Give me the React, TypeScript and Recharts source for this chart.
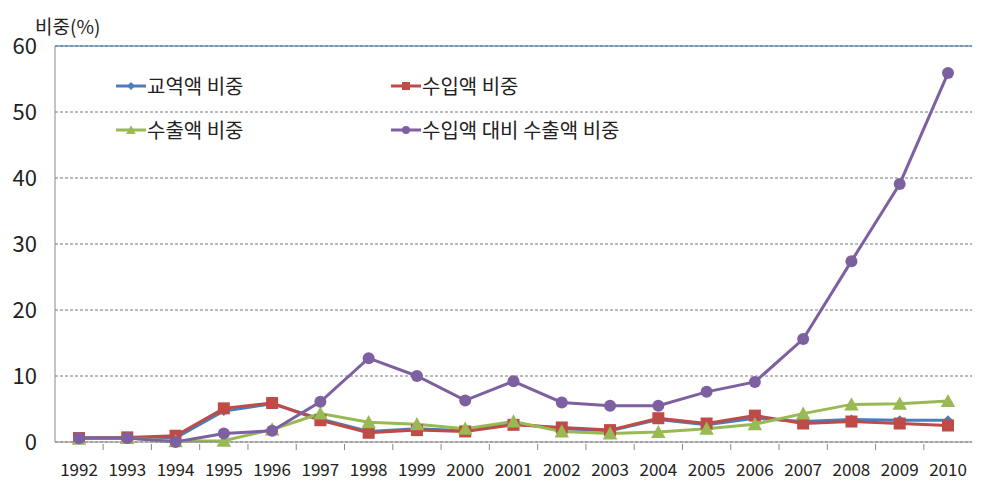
import {
  LineChart,
  Line,
  XAxis,
  YAxis,
  CartesianGrid,
  ReferenceLine,
} from "recharts";

const years = [
  "1992", "1993", "1994", "1995", "1996", "1997", "1998", "1999", "2000", "2001",
  "2002", "2003", "2004", "2005", "2006", "2007", "2008", "2009", "2010",
];
const tradeShare = [0.6, 0.7, 0.6, 4.7, 5.8, 3.5, 1.6, 2.0, 1.7, 2.8, 2.0, 1.7, 3.4, 2.6, 3.6, 3.1, 3.4, 3.3, 3.3];
const importShare = [0.6, 0.7, 0.95, 5.1, 5.9, 3.3, 1.4, 1.8, 1.6, 2.6, 2.2, 1.8, 3.6, 2.8, 4.0, 2.8, 3.1, 2.8, 2.5];
const exportShare = [0.5, 0.6, 0.1, 0.2, 1.9, 4.3, 3.0, 2.7, 2.0, 3.1, 1.6, 1.3, 1.5, 2.0, 2.7, 4.3, 5.7, 5.8, 6.2];
const exportToImport = [0.56, 0.6, 0.0, 1.3, 1.7, 6.1, 12.7, 10.0, 6.3, 9.2, 6.0, 5.5, 5.5, 7.6, 9.1, 15.6, 27.4, 39.1, 55.9];
const yTicks = [0, 10, 20, 30, 40, 50, 60];

const data = years.map((y, i) => ({
  year: y,
  교역액비중: tradeShare[i],
  수입액비중: importShare[i],
  수출액비중: exportShare[i],
  대비비중: exportToImport[i],
}));

const FONT = "'Noto Sans CJK KR', 'Noto Sans', sans-serif";

const series = [
  { key: "교역액비중", name: "교역액 비중", color: "#4a7ebb", shape: "diamond" },
  { key: "수입액비중", name: "수입액 비중", color: "#be4b48", shape: "square" },
  { key: "수출액비중", name: "수출액 비중", color: "#98b954", shape: "triangle" },
  { key: "대비비중", name: "수입액 대비 수출액 비중", color: "#7d60a0", shape: "circle" },
];

function Marker({ cx, cy, color, shape, size }: any) {
  if (cx == null || cy == null) return null;
  const s = size;
  if (shape === "square")
    return <rect x={cx - s} y={cy - s} width={s * 2} height={s * 2} fill={color} />;
  if (shape === "triangle")
    return (
      <polygon
        points={`${cx},${cy - s * 1.2} ${cx - s * 1.2},${cy + s} ${cx + s * 1.2},${cy + s}`}
        fill={color}
      />
    );
  if (shape === "diamond")
    return (
      <polygon
        points={`${cx},${cy - s} ${cx + s},${cy} ${cx},${cy + s} ${cx - s},${cy}`}
        fill={color}
      />
    );
  return <circle cx={cx} cy={cy} r={s} fill={color} />;
}

function XTick({ x, y, payload }: any) {
  const half = 917 / 19 / 2;
  return (
    <g>
      {payload.index < years.length - 1 && (
        <line x1={x + half} x2={x + half} y1={y} y2={y - 6} stroke="#888" />
      )}
      <text x={x} y={y + 26} textAnchor="middle" fontSize={17} fill="#222" fontFamily={FONT}>
        {payload.value}
      </text>
    </g>
  );
}

function LegendBox() {
  const item = (s: any, left: number, top: number) => (
    <div
      key={s.key}
      style={{ position: "absolute", left, top, display: "flex", alignItems: "center", whiteSpace: "nowrap" }}
    >
      <svg width={30} height={14}>
        <line x1={0} x2={30} y1={7} y2={7} stroke={s.color} strokeWidth={3} />
        <Marker cx={15} cy={7} color={s.color} shape={s.shape} size={4} />
      </svg>
      <span style={{ fontSize: 20, fontFamily: FONT, color: "#222", marginLeft: 1 }}>{s.name}</span>
    </div>
  );
  return (
    <div style={{ position: "absolute", left: 116, top: 71, width: 600, height: 80 }}>
      {item(series[0], 0, 0)}
      {item(series[1], 275, 0)}
      {item(series[2], 0, 44)}
      {item(series[3], 275, 44)}
    </div>
  );
}

export default function App() {
  return (
    <div style={{ position: "absolute", left: 0, top: 0, width: 984, height: 489, background: "#fff" }}>
      <LineChart
        width={984}
        height={489}
        data={data}
        margin={{ top: 46, right: 12, bottom: 17, left: 0 }}
      >
        <CartesianGrid vertical={false} strokeDasharray="3 2" stroke="#777" />
        <XAxis
          dataKey="year"
          height={30}
          tick={<XTick />}
          tickLine={false}
          axisLine={{ stroke: "#888" }}
          interval={0}
          padding={{ left: 24, right: 24 }}
        />
        <YAxis
          width={55}
          domain={[0, 60]}
          ticks={yTicks}
          tickLine={false}
          axisLine={{ stroke: "#888" }}
          tickMargin={12}
          tick={{ fontSize: 22, fill: "#222", fontFamily: FONT }}
        />
        <YAxis
          yAxisId="r"
          orientation="right"
          width={0}
          domain={[0, 60]}
          tick={false}
          tickLine={false}
          axisLine={{ stroke: "#2f6f9f" }}
        />
        <ReferenceLine y={60} stroke="#2f6f9f" />
        {series.map((s) => (
          <Line
            key={s.key}
            dataKey={s.key}
            name={s.name}
            stroke={s.color}
            strokeWidth={3}
            type="linear"
            isAnimationActive={false}
            dot={(p: any) => (
              <Marker
                key={`${s.key}-${p.index}`}
                cx={p.cx}
                cy={p.cy}
                color={s.color}
                shape={s.shape}
                size={s.shape === "diamond" ? 5 : 6}
              />
            )}
            activeDot={false}
          />
        ))}
      </LineChart>
      <LegendBox />
      <div
        style={{
          position: "absolute",
          left: 35,
          top: 12,
          fontSize: 19,
          fontFamily: FONT,
          color: "#222",
        }}
      >
        비중(%)
      </div>
    </div>
  );
}
